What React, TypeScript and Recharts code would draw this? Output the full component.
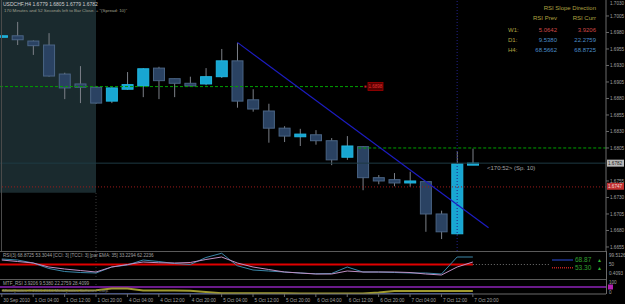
import React from "react";
import {
  ComposedChart,
  Bar,
  Line,
  XAxis,
  YAxis,
  ReferenceLine,
  ReferenceArea,
  ReferenceDot,
} from "recharts";

// H4 bars, 30 Sep 2010 20:00 .. 7 Oct 20:00
const barIndex = [0, 1, 2, 3, 4, 5, 6, 7, 8, 9, 10, 11, 12, 13, 14, 15, 16, 17, 18, 19, 20, 21, 22, 23, 24, 25, 26, 27, 28, 29, 30];
const opens = [1.6973, 1.6975, 1.6967, 1.6961, 1.6917, 1.6902, 1.6897, 1.6876, 1.6894, 1.6899, 1.6926, 1.691, 1.6903, 1.6902, 1.6913, 1.6937, 1.6878, 1.6861, 1.6835, 1.6822, 1.6825, 1.6816, 1.6791, 1.6807, 1.676, 1.6757, 1.6752, 1.6754, 1.6705, 1.6675, 1.6779];
const highs = [1.6976, 1.6996, 1.6968, 1.6979, 1.6919, 1.6929, 1.6899, 1.6897, 1.692, 1.6926, 1.6928, 1.691, 1.6913, 1.6926, 1.6955, 1.6964, 1.6894, 1.6872, 1.6838, 1.6834, 1.6832, 1.682, 1.6823, 1.6808, 1.6764, 1.6767, 1.6769, 1.6755, 1.671, 1.68, 1.6804];
const lows = [1.6972, 1.6961, 1.6946, 1.6913, 1.6879, 1.6873, 1.6872, 1.6873, 1.6893, 1.6882, 1.6879, 1.6882, 1.6898, 1.69, 1.6911, 1.6866, 1.686, 1.6813, 1.6814, 1.6808, 1.681, 1.6779, 1.6787, 1.6741, 1.675, 1.6747, 1.6746, 1.6678, 1.6667, 1.6674, 1.6779];
const closes = [1.6975, 1.6969, 1.696, 1.6914, 1.6896, 1.6897, 1.6873, 1.6896, 1.6901, 1.6925, 1.6907, 1.6903, 1.6899, 1.6913, 1.6937, 1.6876, 1.6864, 1.6835, 1.6823, 1.6826, 1.6816, 1.6787, 1.6808, 1.676, 1.6755, 1.6752, 1.6755, 1.6705, 1.6678, 1.6781, 1.6782];

const rsiFast = [72, 68, 56, 34, 22, 18, 16, 40, 48, 68, 62, 54, 50, 78, 95, 45, 28, 24, 20, 16, 13, 14, 40, 20, 20, 18, 16, 16, 12, 80, 80];
const rsiSlow = [68, 62, 56, 40, 32, 26, 20, 40, 50, 60, 57, 56, 58, 70, 80, 56, 40, 30, 20, 16, 12, 12, 24, 20, 20, 20, 18, 12, 8, 40, 60];
const mtfLine = [30, 30, 30, 30, 30, 30, 32, 45, 45, 30, 30, 30, 28, 17, 6, 6, 6, 6, 6, 4, 4, 4, 4, 4, 12, 25, 25, 25, 25, 25, 25];

const priceTicks = [1.6655, 1.668, 1.6705, 1.673, 1.6755, 1.6805, 1.683, 1.6855, 1.688, 1.6905, 1.693, 1.6955, 1.698, 1.7005, 1.703];
const timeTicks = [0, 2, 4, 6, 8, 10, 12, 14, 16, 18, 20, 22, 24, 26, 28, 30];
const timeLabels = ["30 Sep 2010", "1 Oct 04:00", "1 Oct 12:00", "1 Oct 20:00", "4 Oct 04:00", "4 Oct 12:00", "4 Oct 20:00", "5 Oct 04:00", "5 Oct 12:00", "5 Oct 20:00", "6 Oct 04:00", "6 Oct 12:00", "6 Oct 20:00", "7 Oct 04:00", "7 Oct 12:00", "7 Oct 20:00"];

const rows = barIndex.map((i, k) => ({
  i,
  open: opens[k],
  high: highs[k],
  low: lows[k],
  close: closes[k],
  rsiFast: rsiFast[k],
  rsiSlow: rsiSlow[k],
  mtf: mtfLine[k],
}));

const X0 = -0.115;
const X1 = 38.48;
const Y0 = 1.66489;
const Y1 = 1.70292;
const FONT = "'Liberation Sans', Arial, sans-serif";

function Candle(props: any) {
  const { x, y, width, height, payload } = props;
  const { open, high, low, close } = payload;
  const k = height / (high - low || 1e-9);
  const cx = x + width / 2;
  const top = y + (high - Math.max(open, close)) * k;
  const bot = y + (high - Math.min(open, close)) * k;
  const bull = close >= open;
  return (
    <g>
      <line x1={cx} x2={cx} y1={y} y2={y + height} stroke="#7c8088" />
      <rect
        x={x + 0.5}
        y={top}
        width={width - 1}
        height={Math.max(bot - top, 1.5)}
        fill={bull ? "#18a6d2" : "#2a4262"}
        stroke={bull ? "#22b8e2" : "#4a6484"}
        strokeWidth={1}
      />
    </g>
  );
}

function PriceTick(props: any) {
  const { x, y, payload } = props;
  return (
    <text x={x} y={Math.max(y, 3) + 1.6} fontSize={4.6} fill="#a0a0a0" fontFamily={FONT}>
      {payload.value.toFixed(4)}
    </text>
  );
}

function PriceBox({ cx, cy, text, bg, fg }: any) {
  return (
    <g>
      <rect x={cx + 1} y={cy - 3.5} width={17} height={7} fill={bg} />
      <text x={cx + 2} y={cy + 1.7} fontSize={4.6} fill={fg} fontFamily={FONT}>
        {text}
      </text>
    </g>
  );
}

function LevelTag({ cx, cy }: any) {
  return (
    <g>
      <rect x={cx - 11} y={cy - 1} width={2} height={2} fill="#d02020" />
      <rect x={cx - 7.5} y={cy - 4} width={15} height={8} fill="#5a0000" stroke="#a00000" strokeWidth={0.8} />
      <text x={cx} y={cy + 1.6} fontSize={4.5} fill="#e03030" textAnchor="middle" fontFamily={FONT}>
        1.6898
      </text>
    </g>
  );
}

function TimeTick(props: any) {
  const { x, y, payload } = props;
  const label = timeLabels[timeTicks.indexOf(payload.value)];
  return (
    <g>
      <line x1={x} x2={x} y1={y - 3} y2={y} stroke="#6a6a6a" />
      <text x={x + 1.5} y={y + 4.5} fontSize={4.7} fill="#a0a0a0" fontFamily={FONT}>
        {label}
      </text>
    </g>
  );
}

export default function App() {
  return (
    <div style={{ position: "absolute", left: 0, top: 0, width: 625, height: 304, background: "#000", overflow: "hidden" }}>
      <div style={{ position: "absolute", left: 0, top: 0 }}>
        <ComposedChart width={625} height={251} data={rows} margin={{ top: 0, right: 0, bottom: 0, left: 0 }}>
          <XAxis type="number" dataKey="i" domain={[X0, X1]} allowDataOverflow hide />
          <YAxis
            orientation="right"
            width={19}
            domain={[Y0, Y1]}
            allowDataOverflow
            ticks={priceTicks}
            interval={0}
            tick={<PriceTick />}
            tickSize={3}
            tickMargin={1}
            axisLine={{ stroke: "#6a6a6a" }}
            tickLine={{ stroke: "#6a6a6a" }}
          />
          <ReferenceArea x1={X0} x2={6} y1={1.6737} y2={Y1} fill="#1a2a2e" fillOpacity={1} stroke="none" ifOverflow="visible" />
          <ReferenceLine segment={[{ x: 6, y: Y0 }, { x: 6, y: 1.6737 }]} stroke="#3a3a3a" strokeDasharray="1 2" ifOverflow="visible" />
          <ReferenceLine x={29} stroke="#22228a" strokeDasharray="1 2" ifOverflow="visible" />
          <ReferenceLine y={1.6782} stroke="#1e3a44" ifOverflow="visible" />
          <ReferenceLine y={1.6746} stroke="#9a1a1a" strokeDasharray="1 2" ifOverflow="visible" />
          <Bar dataKey={(d: any) => [d.low, d.high]} barSize={12} shape={<Candle />} isAnimationActive={false} />
          <ReferenceLine segment={[{ x: X0, y: 1.6898 }, { x: 23, y: 1.6898 }]} stroke="#00a000" strokeDasharray="3 2" ifOverflow="visible" />
          <ReferenceLine segment={[{ x: 22.7, y: 1.6805 }, { x: X1, y: 1.6805 }]} stroke="#00a000" strokeDasharray="3 2" ifOverflow="visible" />
          <ReferenceLine segment={[{ x: 15, y: 1.6965 }, { x: 31, y: 1.6684 }]} stroke="#1c1cc0" strokeWidth={1.2} ifOverflow="visible" />
          <ReferenceDot x={23.8} y={1.6898} ifOverflow="visible" shape={(p: any) => <LevelTag {...p} />} />
          <ReferenceDot x={X1} y={1.6782} ifOverflow="visible" shape={(p: any) => <PriceBox {...p} text="1.6782" bg="#b8b8b8" fg="#202020" />} />
          <ReferenceDot x={X1} y={1.6747} ifOverflow="visible" shape={(p: any) => <PriceBox {...p} text="1.6747" bg="#c03030" fg="#f4d8d8" />} />
        </ComposedChart>
      </div>

      <div style={{ position: "absolute", left: 0, top: 251 }}>
        <ComposedChart width={625} height={28} data={rows} margin={{ top: 1, right: 19, bottom: 2, left: 0 }}>
          <XAxis type="number" dataKey="i" domain={[X0, X1]} allowDataOverflow hide />
          <YAxis domain={[0, 100]} allowDataOverflow hide />
          <ReferenceLine x={6} stroke="#3a3a3a" strokeDasharray="1 2" ifOverflow="visible" />
          <ReferenceLine segment={[{ x: X0, y: 50 }, { x: 30, y: 50 }]} stroke="#e00000" strokeWidth={2} ifOverflow="visible" />
          <ReferenceLine segment={[{ x: 30, y: 50 }, { x: 34.9, y: 50 }]} stroke="#707070" strokeDasharray="1 2" ifOverflow="visible" />
          <Line dataKey="rsiFast" stroke="#3a86a8" strokeWidth={1} dot={false} isAnimationActive={false} />
          <Line dataKey="rsiSlow" stroke="#c090c4" strokeWidth={1} dot={false} isAnimationActive={false} />
        </ComposedChart>
      </div>

      <div style={{ position: "absolute", left: 0, top: 279 }}>
        <ComposedChart width={625} height={25} data={rows} margin={{ top: 3, right: 19, bottom: 0, left: 0 }}>
          <XAxis
            type="number"
            dataKey="i"
            domain={[X0, X1]}
            allowDataOverflow
            ticks={timeTicks}
            interval={0}
            height={10}
            tickSize={3}
            tickMargin={0}
            tickLine={false}
            axisLine={{ stroke: "#6a6a6a" }}
            tick={<TimeTick />}
          />
          <YAxis domain={[0, 100]} allowDataOverflow hide />
          <ReferenceLine x={6} stroke="#3a3a3a" strokeDasharray="1 2" ifOverflow="visible" />
          <ReferenceLine y={58} stroke="#6a1a8a" strokeWidth={2} ifOverflow="visible" />
          <ReferenceLine segment={[{ x: X0, y: 3 }, { x: 30, y: 3 }]} stroke="#2a48b0" ifOverflow="visible" />
          <Line dataKey="mtf" stroke="#a09a30" strokeWidth={2} dot={false} isAnimationActive={false} />
        </ComposedChart>
      </div>

      <svg width={625} height={304} style={{ position: "absolute", left: 0, top: 0, pointerEvents: "none" }} fontFamily={FONT}>
        <line x1={1.5} x2={1.5} y1={0} y2={251} stroke="#4a4a4a" />
        <line x1={0} x2={606} y1={251.5} y2={251.5} stroke="#5a5a5a" />
        <line x1={0} x2={606} y1={279.5} y2={279.5} stroke="#5a5a5a" />
        <line x1={606.5} x2={606.5} y1={251} y2={294} stroke="#6a6a6a" />

        <text x={3} y={6} fontSize={5} fill="#d0d0d0">USDCHF,H4 1.6779 1.6805 1.6779 1.6782</text>
        <text x={4} y={12} fontSize={4.4} fill="#a0a090">170 Minutes and 52 Seconds left to Bar Close. + "(Spread: 10)"</text>

        <text x={596} y={9.5} fontSize={6} fill="#b0a040" textAnchor="end">RSI Slope Direction</text>
        <text x={557} y={19.5} fontSize={6} fill="#b0a040" textAnchor="end">RSI Prev</text>
        <text x={596} y={19.5} fontSize={6} fill="#b0a040" textAnchor="end">RSI Curr</text>
        <text x={508} y={32} fontSize={6} fill="#b0a040">W1:</text>
        <text x={557} y={32} fontSize={6} fill="#d04848" textAnchor="end">5.0642</text>
        <text x={596} y={32} fontSize={6} fill="#d04848" textAnchor="end">3.9206</text>
        <text x={508} y={42} fontSize={6} fill="#b0a040">D1:</text>
        <text x={557} y={42} fontSize={6} fill="#4a8cc8" textAnchor="end">9.5380</text>
        <text x={596} y={42} fontSize={6} fill="#4a8cc8" textAnchor="end">22.2759</text>
        <text x={508} y={52} fontSize={6} fill="#b0a040">H4:</text>
        <text x={557} y={52} fontSize={6} fill="#4a8cc8" textAnchor="end">68.5662</text>
        <text x={596} y={52} fontSize={6} fill="#4a8cc8" textAnchor="end">68.8725</text>

        <text x={487} y={170} fontSize={6} fill="#a0a0a0">{"<170:52> (Sp. 10)"}</text>

        <text x={3} y={257.3} fontSize={4.6} fill="#a0a0a0">RSI(3) 68.8725 53.3044 [CCI: 3] [TCCI: 3] [par EMA: 35] 33.2294 62.2236</text>
        <line x1={552} x2={573} y1={260} y2={260} stroke="#2a4ad8" />
        <text x={575} y={262} fontSize={6.5} fill="#30a030">68.87</text>
        <text x={597} y={262} fontSize={5} fill="#30b030">▲</text>
        <line x1={552} x2={573} y1={267.7} y2={267.7} stroke="#c02020" strokeWidth={1.5} strokeDasharray="1 1" />
        <text x={575} y={269.5} fontSize={6.5} fill="#30a030">53.30</text>
        <text x={597} y={269.5} fontSize={5} fill="#30b030">▲</text>
        <text x={609} y={256.5} fontSize={4.6} fill="#a0a0a0">99.5126</text>
        <text x={609} y={265.5} fontSize={4.6} fill="#a0a0a0">50</text>
        <text x={609} y={274.5} fontSize={4.6} fill="#a0a0a0">0.4093</text>

        <text x={3} y={285} fontSize={4.6} fill="#a0a0a0">MTF_RSI 3.9206 9.5380 22.2759 28.4099</text>
        <text x={3} y={291.5} fontSize={4.4} fill="#808080">MetaQuotes © 2001-2010 MetaQuotes Software Corp.</text>
        <text x={609} y={283.5} fontSize={4.6} fill="#a0a0a0">100</text>
        <rect x={608} y={284.5} width={5} height={5} fill="#b020b0" />
        <text x={609} y={293.5} fontSize={4.6} fill="#a0a0a0">0</text>
      </svg>
    </div>
  );
}
